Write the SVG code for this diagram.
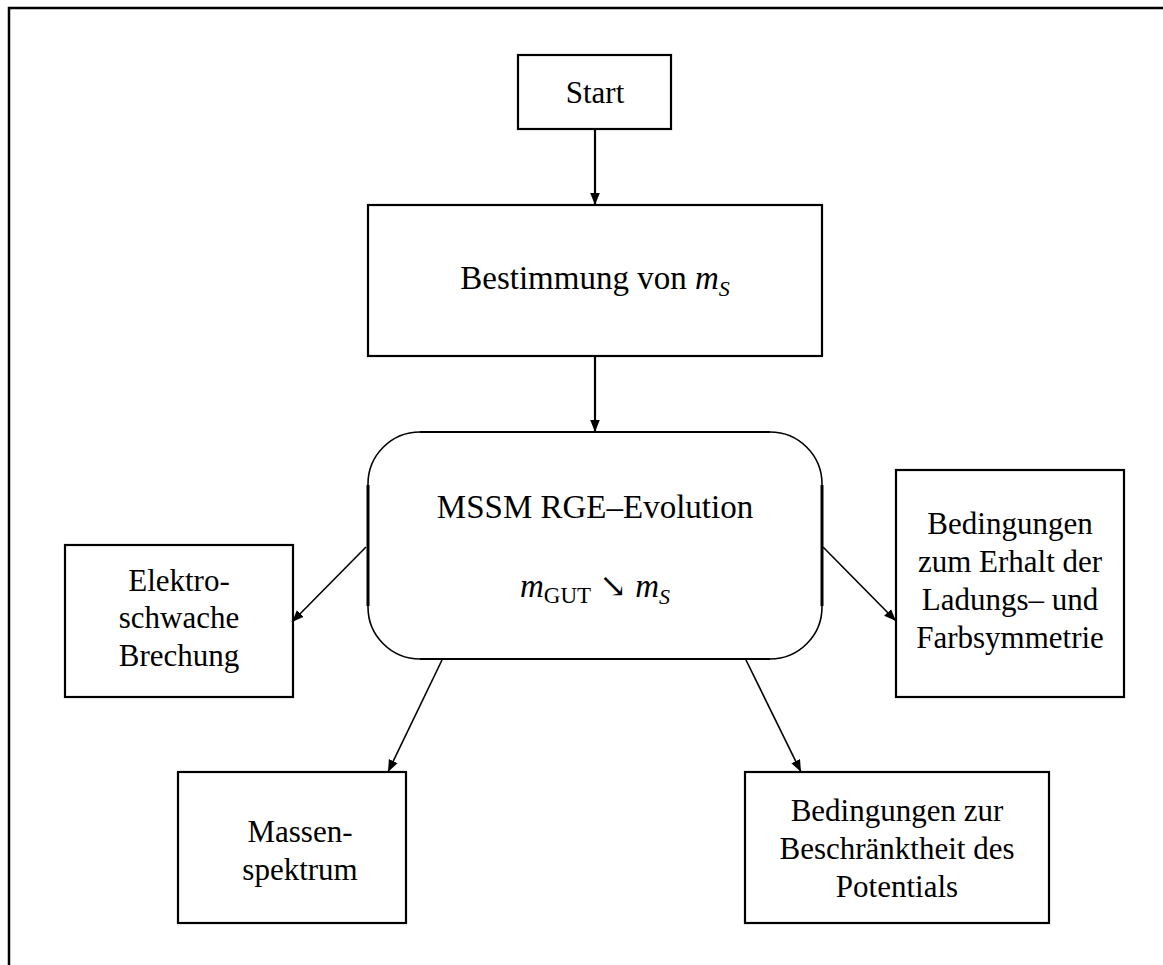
<svg xmlns="http://www.w3.org/2000/svg" width="1163" height="965" viewBox="0 0 1163 965">
<style>
.box{fill:#fff;stroke:#000;stroke-width:2.2}
.t{font-family:"Liberation Serif","DejaVu Serif",serif;font-size:31px;fill:#000;text-anchor:middle}
.l{font-size:33px}
.i{font-style:italic}
.c{stroke:#000;stroke-width:1.6;fill:none}
</style>
<defs>
<marker id="ah" viewBox="0 0 10 10" refX="10" refY="5" markerWidth="12" markerHeight="12" markerUnits="userSpaceOnUse" orient="auto">
<path d="M0,1 L10,5 L0,9 Z" fill="#000"/>
</marker>
</defs>
<rect width="1163" height="965" fill="#fff"/>
<path d="M9,965 V8 H1163" fill="none" stroke="#000" stroke-width="2.5"/>
<g id="start"><rect class="box" x="518" y="55" width="153" height="74"/><text class="t" x="595" y="103">Start</text></g>
<g id="bestimmung"><rect class="box" x="368" y="205" width="454" height="151"/><text class="t l" x="595" y="289">Bestimmung von <tspan class="i">m</tspan><tspan class="i" font-size="22" dy="7">S</tspan></text></g>
<g id="rge"><rect class="box" x="368" y="432" width="454" height="227" rx="52" ry="52" style="stroke-width:1.6"/>
<line x1="368" y1="485" x2="368" y2="606" stroke="#000" stroke-width="3"/>
<line x1="822" y1="485" x2="822" y2="606" stroke="#000" stroke-width="3"/>
<line x1="420" y1="432" x2="770" y2="432" stroke="#000" stroke-width="2.2"/>
<line x1="420" y1="659" x2="770" y2="659" stroke="#000" stroke-width="2.2"/>
<text class="t l" x="595" y="518">MSSM RGE–Evolution</text>
<text class="t l" x="595" y="597"><tspan class="i">m</tspan><tspan font-size="23" dy="6">GUT</tspan><tspan dy="-6"> ↘ </tspan><tspan class="i">m</tspan><tspan class="i" font-size="22" dy="7">S</tspan></text></g>
<g id="elektro"><rect class="box" x="65" y="545" width="228" height="152"/><text class="t" x="179" y="591">Elektro-</text><text class="t" x="179" y="628">schwache</text><text class="t" x="179" y="666">Brechung</text></g>
<g id="farb"><rect class="box" x="896" y="470" width="228" height="227"/><text class="t" x="1010" y="534">Bedingungen</text><text class="t" x="1010" y="572">zum Erhalt der</text><text class="t" x="1010" y="610">Ladungs– und</text><text class="t" x="1010" y="648">Farbsymmetrie</text></g>
<g id="massen"><rect class="box" x="178" y="772" width="228" height="151"/><text class="t" x="300" y="842">Massen-</text><text class="t" x="300" y="880">spektrum</text></g>
<g id="potential"><rect class="box" x="745" y="772" width="304" height="151"/><text class="t" x="897" y="821">Bedingungen zur</text><text class="t" x="897" y="859">Beschränktheit des</text><text class="t" x="897" y="897">Potentials</text></g>
<g id="connectors">
<line class="c" x1="595" y1="130" x2="595" y2="205" marker-end="url(#ah)" style="stroke-width:2.2"/>
<line class="c" x1="595" y1="357" x2="595" y2="432" marker-end="url(#ah)" style="stroke-width:2.2"/>
<line class="c" x1="366" y1="547" x2="292" y2="622" marker-end="url(#ah)"/>
<line class="c" x1="823" y1="547" x2="896" y2="621" marker-end="url(#ah)"/>
<line class="c" x1="442" y1="660" x2="388" y2="772" marker-end="url(#ah)"/>
<line class="c" x1="746" y1="660" x2="801" y2="772" marker-end="url(#ah)"/>
</g>
</svg>
